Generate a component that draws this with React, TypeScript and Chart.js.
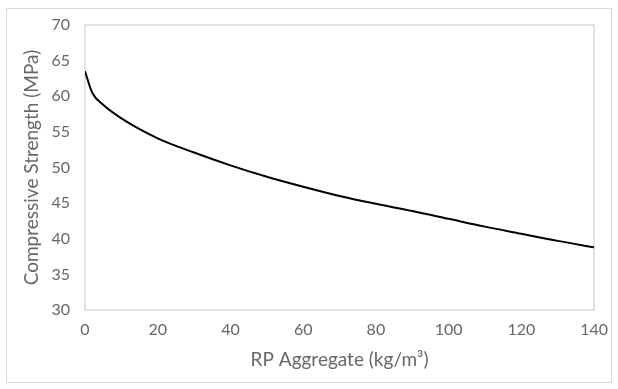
import React, { useEffect, useRef } from "react";
import { Chart, registerables } from "chart.js";

Chart.register(...registerables);

// RP aggregate content (kg/m³) and resulting compressive strength (MPa)
const rpAggregate = [0, 2, 5, 10, 20, 30, 40, 50, 60, 70, 80, 90, 100, 110, 120, 130, 140];
const strength = [63.5, 60.5, 58.8, 56.9, 54.1, 52.1, 50.3, 48.7, 47.3, 46.0, 44.9, 43.9, 42.8, 41.7, 40.7, 39.7, 38.8];

const xTitle = "RP Aggregate (kg/m³)";
const yTitle = "Compressive Strength (MPa)";

const FONT = "Lato, 'Open Sans', sans-serif";
const TEXT_GRAY = "#676767";
const FRAME_GRAY = "#d9d9d9";

// Outer chart frame plus the box around the plot area
const framePlugin = {
  id: "frames",
  beforeDraw(chart: any) {
    const { ctx, chartArea } = chart;
    ctx.save();
    ctx.fillStyle = "#ffffff";
    ctx.fillRect(0, 0, chart.width, chart.height);
    ctx.strokeStyle = FRAME_GRAY;
    ctx.lineWidth = 1;
    ctx.strokeRect(6.5, 8.5, 605, 374);
    ctx.lineWidth = 1.5;
    ctx.strokeRect(chartArea.left, chartArea.top, chartArea.right - chartArea.left, chartArea.bottom - chartArea.top);
    ctx.restore();
  },
};

export default function App() {
  const canvasRef = useRef<HTMLCanvasElement | null>(null);

  useEffect(() => {
    if (!canvasRef.current) return;
    const chart = new Chart(canvasRef.current, {
      type: "scatter",
      data: {
        datasets: [
          {
            data: rpAggregate.map((x, i) => ({ x, y: strength[i] })),
            showLine: true,
            borderColor: "#000000",
            borderWidth: 2,
            pointRadius: 0,
            cubicInterpolationMode: "monotone",
            fill: false,
          },
        ],
      },
      options: {
        animation: false,
        responsive: false,
        events: [],
        layout: { padding: { top: 25, right: 22, left: 20.6, bottom: 17.6 } },
        plugins: { legend: { display: false }, tooltip: { enabled: false } },
        scales: {
          x: {
            type: "linear",
            min: 0,
            max: 140,
            grid: { display: false, drawTicks: false },
            border: { display: false },
            ticks: { stepSize: 20, padding: 10, color: TEXT_GRAY, font: { family: FONT, size: 16 } },
            title: { display: true, text: xTitle, color: TEXT_GRAY, font: { family: FONT, size: 19 }, padding: 0 },
            afterFit: (scale: any) => {
              scale.height = 61.4;
            },
          },
          y: {
            min: 30,
            max: 70,
            grid: { display: false, drawTicks: false },
            border: { display: false },
            ticks: { stepSize: 5, padding: 15, color: TEXT_GRAY, font: { family: FONT, size: 16 } },
            title: { display: true, text: yTitle, color: TEXT_GRAY, font: { family: FONT, size: 19 }, padding: 0 },
            afterFit: (scale: any) => {
              scale.width = 64.4;
            },
          },
        },
      },
      plugins: [framePlugin],
    });
    return () => chart.destroy();
  }, []);

  return (
    <div style={{ position: "fixed", left: 0, top: 0, width: 618, height: 389, background: "#fff" }}>
      <canvas ref={canvasRef} width={618} height={389} style={{ display: "block" }} />
    </div>
  );
}
